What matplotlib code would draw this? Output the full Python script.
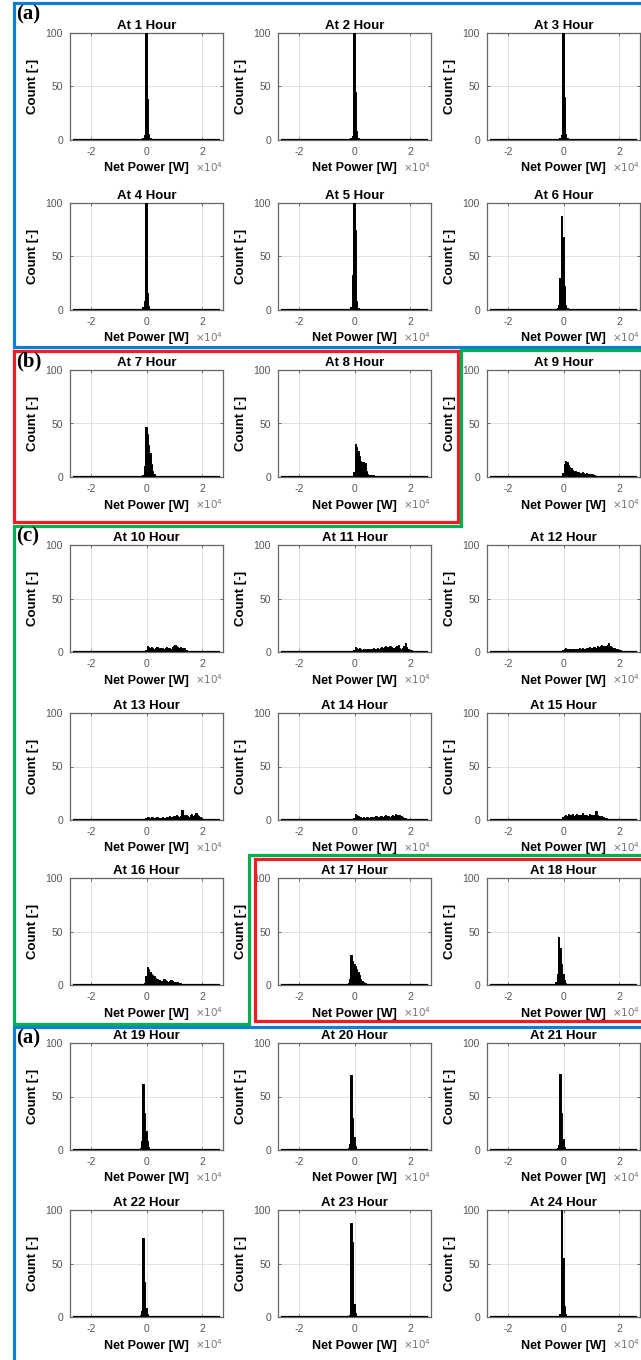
import numpy as np
import matplotlib
matplotlib.use("Agg")
import matplotlib.pyplot as plt
from matplotlib.lines import Line2D

plt.rcParams['font.family'] = ['Liberation Sans', 'DejaVu Sans']
plt.rcParams['axes.unicode_minus'] = False

# Histogram bins (x10^4 W)
bin_width = 0.05
bin_lo, bin_hi = -2.6, 2.6

# first non-empty bin (left edge, x10^4 W) per hour
hist_start = [-0.2, -0.2, -0.2, -0.2, -0.2, -0.3, -0.15, -0.05, -0.05, -0.05, -0.05, -0.1,
              -0.1, -0.05, -0.1, -0.1, -0.25, -0.35, -0.3, -0.3, -0.3, -0.3, -0.25, -0.2]

# bin counts starting at hist_start, one list per hour
counts_01 = [1, 2, 5, 100, 38, 6, 2, 1]
counts_02 = [1, 2, 4, 100, 45, 8, 2, 1]
counts_03 = [1, 2, 5, 100, 40, 6, 2, 1]
counts_04 = [1, 3, 8, 100, 16, 4, 1]
counts_05 = [1, 3, 33, 100, 75, 8, 2, 1]
counts_06 = [1, 2, 5, 30, 88, 68, 22, 5, 2, 1]
counts_07 = [2, 10, 47, 40, 30, 22, 12, 6, 3, 1]
counts_08 = [5, 31, 28, 24, 20, 15, 14, 14, 13, 6, 3, 2, 2, 2, 2, 1]
counts_09 = [4, 12, 15, 14, 11, 9, 8, 7, 6, 6, 5, 5, 4, 4, 5, 4, 3, 4, 3, 3, 2, 3, 2, 2, 1, 1]
counts_10 = [2, 6, 5, 4, 5, 4, 3, 4, 5, 4, 3, 4, 4, 3, 4, 5, 4, 4, 3, 5, 6, 7, 6, 5, 4, 5, 4, 3, 4, 2, 1]
counts_11 = [2, 5, 4, 3, 4, 3, 2, 3, 3, 2, 3, 3, 2, 3, 4, 3, 3, 4, 3, 4, 5, 4, 5, 6, 5, 4, 6, 5, 3, 4,
             5, 6, 7, 4, 3, 4, 6, 8, 5, 3, 2, 2, 1]
counts_12 = [1, 2, 3, 4, 3, 2, 3, 3, 2, 3, 2, 3, 3, 4, 3, 4, 3, 3, 4, 4, 5, 4, 4, 5, 5, 4, 6, 5, 6, 7,
             6, 5, 6, 7, 8, 6, 5, 4, 4, 3, 3, 2, 2, 1, 1, 1]
counts_13 = [1, 2, 3, 3, 2, 3, 3, 2, 2, 3, 2, 2, 2, 3, 2, 2, 3, 3, 4, 3, 3, 4, 4, 5, 4, 3, 4, 9, 5, 4,
             5, 4, 3, 5, 6, 4, 5, 7, 5, 4, 3, 2, 1, 1]
counts_14 = [2, 6, 5, 4, 3, 3, 2, 3, 2, 3, 3, 2, 3, 3, 2, 3, 4, 3, 3, 4, 4, 3, 4, 5, 4, 4, 3, 4, 5, 4,
             6, 5, 4, 5, 4, 3, 2, 2, 1]
counts_15 = [1, 3, 4, 5, 4, 6, 4, 5, 6, 4, 5, 6, 5, 4, 5, 7, 4, 5, 5, 4, 6, 5, 5, 4, 5, 8, 5, 4, 3, 4,
             3, 2, 2, 1]
counts_16 = [2, 8, 17, 15, 12, 10, 9, 8, 7, 6, 5, 5, 4, 4, 6, 5, 4, 3, 4, 5, 4, 3, 3, 2, 3, 2, 2, 1,
             1, 1]
counts_17 = [2, 6, 28, 22, 20, 18, 15, 12, 9, 6, 4, 3, 2, 1]
counts_18 = [1, 3, 10, 45, 35, 20, 10, 5, 2, 1]
counts_19 = [1, 2, 8, 62, 35, 18, 8, 3, 1]
counts_20 = [1, 2, 6, 70, 30, 12, 4, 1]
counts_21 = [1, 2, 5, 71, 35, 10, 3, 1]
counts_22 = [1, 2, 6, 74, 33, 8, 3, 1]
counts_23 = [1, 2, 88, 70, 12, 4, 1]
counts_24 = [1, 3, 100, 55, 10, 3, 1]

hour_counts = [counts_01, counts_02, counts_03, counts_04, counts_05, counts_06,
               counts_07, counts_08, counts_09, counts_10, counts_11, counts_12,
               counts_13, counts_14, counts_15, counts_16, counts_17, counts_18,
               counts_19, counts_20, counts_21, counts_22, counts_23, counts_24]

x_ticks = [-2, 0, 2]
y_ticks = [0, 50, 100]

# Figure layout in pixels
W, H = 641, 1360
fig = plt.figure(figsize=(W / 100, H / 100), dpi=100)

col_left = [70, 278, 487]
row_top = [33, 203, 370, 545, 713, 878, 1043, 1210]
ax_w, ax_h = 153, 107

edges = np.round(np.arange(bin_lo, bin_hi + bin_width / 2, bin_width), 4)
grey = '#555555'

for i in range(24):
    r, c = divmod(i, 3)
    ax = fig.add_axes([col_left[c] / W, 1 - (row_top[r] + ax_h) / H, ax_w / W, ax_h / H])
    full = np.zeros(len(edges) - 1)
    k0 = int(round((hist_start[i] - bin_lo) / bin_width))
    full[k0:k0 + len(hour_counts[i])] = hour_counts[i]
    ax.stairs(full, edges, fill=True, color='black', zorder=3)
    ax.stairs(full, edges, color='black', lw=0.7, zorder=3)
    ax.axhline(0, xmin=(bin_lo + 2.75) / 5.5, xmax=(bin_hi + 2.75) / 5.5,
               color='black', lw=1.6, zorder=3)
    ax.set_xlim(-2.75, 2.75)
    ax.set_ylim(0, 100)
    ax.set_xticks(x_ticks)
    ax.set_yticks(y_ticks)
    ax.grid(True, color='#dddddd', lw=0.6, zorder=0)
    ax.tick_params(direction='in', length=2, width=0.6, top=True, right=True,
                   labelsize=7.5, labelcolor=grey, color=grey, pad=5)
    for s in ax.spines.values():
        s.set_color('#666666')
        s.set_linewidth(0.9)
    ax.set_title(f'At {i + 1} Hour', fontsize=9.5, fontweight='bold', pad=3)
    ax.set_ylabel('Count [-]', fontsize=9.5, fontweight='bold', labelpad=5)
    ax.set_xlabel('Net Power [W]', fontsize=9, fontweight='bold', labelpad=4)
    ax.text(0.82, -0.255, r'$\times10^4$', transform=ax.transAxes, fontsize=7.5,
            color='#777777', ha='left', va='center')


# Group frames drawn in pixel coordinates
def frame(pts, color):
    xs = [p[0] / W for p in pts]
    ys = [1 - p[1] / H for p in pts]
    fig.add_artist(Line2D(xs, ys, color=color, lw=2.3, transform=fig.transFigure,
                          solid_joinstyle='miter'))


blue, red, green = '#0a7fd4', '#ee1c24', '#00b050'
frame([(650, 3), (14, 3), (14, 347), (650, 347)], blue)
frame([(14, 351), (458, 351), (458, 522), (14, 522), (14, 351)], red)
frame([(650, 350), (461, 350), (461, 526), (14, 526), (14, 1024), (249, 1024), (249, 855), (650, 855)], green)
frame([(650, 859), (255, 859), (255, 1021), (650, 1021)], red)
frame([(650, 1027), (14, 1027), (14, 1370)], blue)

panel_labels = ['(a)', '(b)', '(c)', '(a)']
panel_y = [4, 351, 526, 1028]
for lab, y in zip(panel_labels, panel_y):
    fig.text(16 / W, 1 - y / H, lab, fontsize=15, fontweight='bold',
             family=['Liberation Serif', 'DejaVu Serif'], ha='left', va='top')

fig.savefig('out.png', dpi=100)
